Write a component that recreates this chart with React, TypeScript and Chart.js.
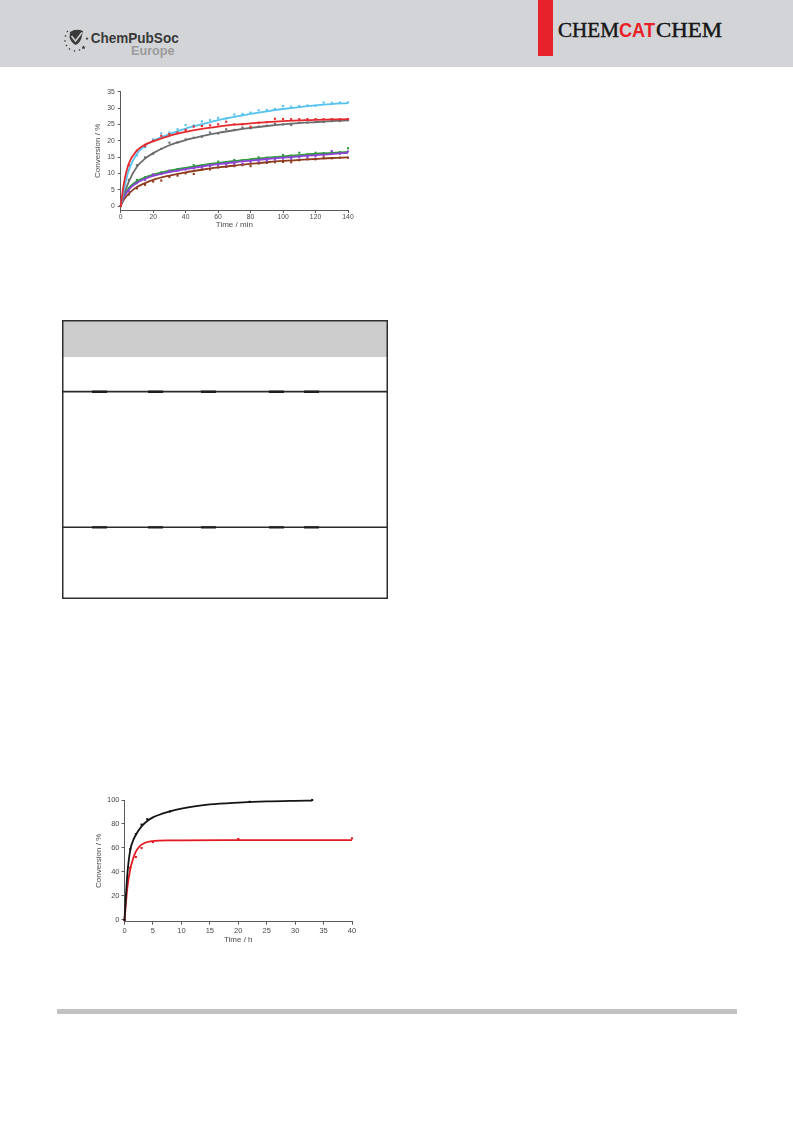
import React, { useEffect, useRef } from 'react';
import { Chart, registerables } from 'chart.js';

Chart.register(...registerables);

// ---------- Conversion vs. time, 0–140 min ----------
const SAMPLE_MIN = [0, 5, 10, 15, 20, 25, 30, 35, 40, 45, 50, 55, 60, 65, 70, 75, 80, 85, 90, 95, 100, 105, 110, 115, 120, 125, 130, 135, 140];

const CYAN_PTS = [0, 11, 15.5, 18, 20.4, 22.2, 22.5, 23.5, 24.8, 24.7, 25.9, 26.3, 27, 26.8, 28, 28.2, 28.6, 29.3, 29.4, 29.7, 30.6, 30.4, 30.6, 30.8, 30.7, 31.7, 31.6, 31.7, 31.7];
const RED_PTS = [0, 12.5, 17, 18.4, 20, 21.5, 22, 22.5, 23.3, 24.3, 24.5, 24.7, 25, 25.8, 25, 25, 24.3, 25.5, 25.7, 26.7, 26.6, 26.6, 26.6, 26.6, 26.6, 26.6, 26.6, 26.6, 26.6];
const GREY_PTS = [0, 8, 12.5, 14.9, 16, 17.5, 19.4, 19.5, 20.4, 20.9, 21.2, 22.5, 22.2, 23.5, 23.3, 24, 23.8, 24.3, 24.6, 25.2, 25, 24.8, 25.5, 25.5, 25.7, 25.7, 26, 26, 26.3];
const GREEN_PTS = [0, 5.5, 8, 8.8, 9.5, 10.3, 10.6, 11.3, 11.5, 12.5, 12.4, 12.8, 13.6, 13.5, 14.1, 14, 14.2, 14.9, 14.8, 15, 15.6, 15.4, 16.3, 15.8, 16.3, 16.2, 16.4, 16.5, 17.7];
const PURPLE_PTS = [0, 4.5, 7, 8, 9.7, 9.8, 10.8, 10.8, 11.2, 11.5, 11.8, 12.2, 12.5, 12.7, 13, 13, 13.5, 13.6, 13.8, 14.2, 14.5, 14.5, 14.9, 15, 15.2, 15.6, 16.8, 16, 16.7];
const BROWN_PTS = [0, 3.5, 5.4, 6.5, 7.5, 7.8, 8.9, 9.3, 10, 9.8, 11.2, 11.2, 11.8, 12, 12.2, 12.5, 12.2, 13, 13.2, 13.4, 13.5, 13.4, 14, 14.3, 14.3, 14.9, 14.6, 14.8, 14.8];

// fitted kinetic curves
const FIT_MIN = [0, 2, 5, 10, 15, 20, 30, 40, 50, 60, 70, 80, 90, 100, 110, 120, 130, 140];
const CYAN_FIT = [0, 5, 11, 16, 18.5, 20, 22, 23.7, 25, 26.3, 27.3, 28.2, 29, 29.7, 30.3, 30.8, 31.2, 31.5];
const RED_FIT = [0, 7, 13, 17, 18.8, 19.8, 21.5, 22.7, 23.6, 24.3, 24.9, 25.3, 25.7, 26, 26.2, 26.4, 26.5, 26.6];
const GREY_FIT = [0, 3.5, 7.5, 12, 14.5, 16.2, 18.6, 20.2, 21.4, 22.4, 23.2, 23.9, 24.5, 25, 25.4, 25.7, 26, 26.2];
const GREEN_FIT = [0, 3, 5.5, 7.6, 8.8, 9.6, 10.8, 11.7, 12.5, 13.2, 13.8, 14.3, 14.8, 15.2, 15.6, 16, 16.3, 16.6];
const PURPLE_FIT = [0, 2.7, 5, 7.1, 8.3, 9.2, 10.4, 11.3, 12.1, 12.8, 13.4, 13.9, 14.4, 14.8, 15.2, 15.6, 15.9, 16.3];
const BROWN_FIT = [0, 2, 3.8, 5.8, 7, 8, 9.3, 10.3, 11.1, 11.8, 12.4, 12.9, 13.4, 13.8, 14.1, 14.4, 14.7, 14.9];

const MIN_TICKS_X = [0, 20, 40, 60, 80, 100, 120, 140];
const MIN_TICKS_Y = [0, 5, 10, 15, 20, 25, 30, 35];

// ---------- Conversion vs. time, 0–40 h ----------
const BLACK_H = [0, 1, 2, 3, 4, 8, 22, 33];
const BLACK_PTS = [0, 59, 71.5, 79.5, 84, 90.5, 98.5, 100];
const RED_H = [0, 1, 2, 3, 5, 20, 40];
const RED_H_PTS = [0, 43.5, 52.5, 60, 65, 67.5, 68];

const BLACK_FIT_H = [0, 0.5, 1, 1.5, 2, 3, 4, 5, 6, 8, 10, 12, 15, 20, 25, 30, 33];
const BLACK_FIT = [0, 38, 58, 66, 71, 78, 82.5, 85.5, 87.5, 90.5, 92.8, 94.5, 96.3, 97.8, 98.8, 99.3, 99.5];
const RED_FIT_H = [0, 0.5, 1, 1.5, 2, 2.5, 3, 4, 5, 6, 8, 10, 20, 40];
const RED_H_FIT = [0, 27, 42, 51, 57, 60.5, 62.8, 65, 65.8, 66.1, 66.3, 66.4, 66.5, 66.6];

const H_TICKS_X = [0, 5, 10, 15, 20, 25, 30, 35, 40];
const H_TICKS_Y = [0, 20, 40, 60, 80, 100];

const SANS = "'Liberation Sans', Arial, Helvetica, sans-serif";
const SERIF = "'Liberation Serif', 'Times New Roman', serif";
const AXIS_COLOR = '#5a5a5a';
const LABEL_COLOR = '#4a4a4a';

type Series = {
  color: string;
  xs: number[];
  ys: number[];
  fitX: number[];
  fitY: number[];
};

type AxisSpec = {
  min: number;
  max: number;
  ticks: number[];
  size: number;
  title: string;
  titlePad: { top: number; bottom: number };
  tickPad: number;
  tickFont: number;
};

function buildAxis(a: AxisSpec, horizontal: boolean) {
  return {
    type: 'linear',
    position: horizontal ? 'bottom' : 'left',
    min: a.min,
    max: a.max,
    afterBuildTicks: (s: any) => {
      s.ticks = a.ticks.map((v) => ({ value: v }));
    },
    afterFit: (s: any) => {
      if (horizontal) s.height = a.size;
      else s.width = a.size;
    },
    grid: {
      drawOnChartArea: false,
      drawTicks: true,
      tickLength: 3,
      color: AXIS_COLOR,
      lineWidth: 1,
    },
    border: { display: true, color: AXIS_COLOR, width: 1 },
    ticks: {
      padding: a.tickPad,
      color: LABEL_COLOR,
      font: { family: SANS, size: a.tickFont },
      maxRotation: 0,
      autoSkip: false,
      callback: (v: any) => String(v),
    },
    title: {
      display: true,
      text: a.title,
      color: LABEL_COLOR,
      font: { family: SANS, size: 8 },
      padding: a.titlePad,
    },
  };
}

type PlotProps = {
  left: number;
  top: number;
  width: number;
  height: number;
  series: Series[];
  x: AxisSpec;
  y: AxisSpec;
  padding: { left: number; right: number; top: number; bottom: number };
  marker: number;
  lineWidth: number;
};

function ConversionPlot(p: PlotProps) {
  const ref = useRef<HTMLCanvasElement>(null);
  useEffect(() => {
    const datasets: any[] = [];
    p.series.forEach((s) => {
      datasets.push({
        data: s.fitX.map((x, i) => ({ x, y: s.fitY[i] })),
        showLine: true,
        pointRadius: 0,
        borderColor: s.color,
        borderWidth: p.lineWidth,
        cubicInterpolationMode: 'monotone',
        fill: false,
        clip: false,
      });
      datasets.push({
        data: s.xs.map((x, i) => ({ x, y: s.ys[i] })),
        showLine: false,
        pointStyle: 'rect',
        pointRadius: p.marker,
        backgroundColor: s.color,
        borderColor: s.color,
        borderWidth: 0,
        clip: false,
      });
    });
    const chart = new Chart(ref.current as HTMLCanvasElement, {
      type: 'scatter',
      data: { datasets },
      options: {
        responsive: false,
        animation: false,
        devicePixelRatio: 1,
        events: [],
        layout: { padding: p.padding },
        plugins: { legend: { display: false }, tooltip: { enabled: false } },
        scales: {
          x: buildAxis(p.x, true) as any,
          y: buildAxis(p.y, false) as any,
        },
      },
    });
    return () => chart.destroy();
  }, []);
  return (
    <canvas
      ref={ref}
      width={p.width}
      height={p.height}
      style={{ position: 'absolute', left: p.left, top: p.top, width: p.width, height: p.height }}
    />
  );
}

const minuteSeries: Series[] = [
  { color: '#e52a2e', xs: SAMPLE_MIN, ys: RED_PTS, fitX: FIT_MIN, fitY: RED_FIT },
  { color: '#56c2ef', xs: SAMPLE_MIN, ys: CYAN_PTS, fitX: FIT_MIN, fitY: CYAN_FIT },
  { color: '#6b6c6e', xs: SAMPLE_MIN, ys: GREY_PTS, fitX: FIT_MIN, fitY: GREY_FIT },
  { color: '#8c43d6', xs: SAMPLE_MIN, ys: PURPLE_PTS, fitX: FIT_MIN, fitY: PURPLE_FIT },
  { color: '#2f9b3c', xs: SAMPLE_MIN, ys: GREEN_PTS, fitX: FIT_MIN, fitY: GREEN_FIT },
  { color: '#8e3c1e', xs: SAMPLE_MIN, ys: BROWN_PTS, fitX: FIT_MIN, fitY: BROWN_FIT },
];

const hourSeries: Series[] = [
  { color: '#141414', xs: BLACK_H, ys: BLACK_PTS, fitX: BLACK_FIT_H, fitY: BLACK_FIT },
  { color: '#e3191f', xs: RED_H, ys: RED_H_PTS, fitX: RED_FIT_H, fitY: RED_H_FIT },
];

function star(cx: number, cy: number, r: number) {
  const pts: string[] = [];
  for (let i = 0; i < 10; i++) {
    const a = -Math.PI / 2 + (i * Math.PI) / 5;
    const rr = i % 2 === 0 ? r : r * 0.45;
    pts.push(`${(cx + rr * Math.cos(a)).toFixed(2)},${(cy + rr * Math.sin(a)).toFixed(2)}`);
  }
  return pts.join(' ');
}

// small stars circling the society emblem
const LOGO_STARS: [number, number, number][] = [
  [67.5, 31.5, 1.2], [65.5, 36, 1.2], [65, 41, 1.2], [66.5, 45.5, 1.2],
  [69.5, 49, 1.2], [74.5, 51, 1.2], [79.5, 50, 1.2], [83.5, 47.5, 2.3], [87, 38.5, 1.7],
];

function Header() {
  return (
    <svg width={793} height={70} style={{ position: 'absolute', left: 0, top: 0 }}>
      <rect x={0} y={0} width={793} height={67} fill="#d3d4d7" />
      {LOGO_STARS.map(([x, y, r], i) => (
        <polygon key={i} points={star(x, y, r)} fill="#3a3a3a" />
      ))}
      <path d="M70,32 Q76,28 83,31 L81.5,38 Q79.5,43.5 75.5,45 Q71,42.5 69.5,37.5 Z" fill="#3b3b3b" />
      <path d="M71.5,36 L75.5,41 L82,32.5" fill="none" stroke="#d3d4d7" strokeWidth={1.5} />
      <text x={90.7} y={42.7} fontFamily={SANS} fontWeight="bold" fontSize={15} fill="#3a3a3a" textLength={88} lengthAdjust="spacingAndGlyphs">
        ChemPubSoc
      </text>
      <text x={131} y={55.3} fontFamily={SANS} fontWeight="bold" fontSize={12.3} fill="#9b9b9b" textLength={43.5} lengthAdjust="spacingAndGlyphs">
        Europe
      </text>
      <rect x={538} y={0} width={15} height={56} fill="#e8222a" />
      <text x={558} y={37} fontFamily={SERIF} fontSize={21} fill="#161616" stroke="#161616" strokeWidth={0.45} textLength={61} lengthAdjust="spacingAndGlyphs">
        CHEM
      </text>
      <text x={619} y={37} fontFamily={SANS} fontWeight="bold" fontSize={19.5} fill="#e8222a" textLength={36} lengthAdjust="spacingAndGlyphs">
        CAT
      </text>
      <text x={656} y={37} fontFamily={SERIF} fontSize={21} fill="#161616" stroke="#161616" strokeWidth={0.45} textLength={66} lengthAdjust="spacingAndGlyphs">
        CHEM
      </text>
    </svg>
  );
}

const RULE_MARKS = [92, 148, 201, 269, 304];

function TableFrame() {
  return (
    <svg width={793} height={620} style={{ position: 'absolute', left: 0, top: 0 }}>
      <rect x={63} y={321} width={324} height={36} fill="#cccccc" />
      <rect x={62.75} y={320.75} width={324.5} height={277.5} fill="none" stroke="#2e2e2e" strokeWidth={1.5} />
      <line x1={62} y1={391.7} x2={388} y2={391.7} stroke="#2a2a2a" strokeWidth={1.8} />
      <line x1={62} y1={527.3} x2={388} y2={527.3} stroke="#2a2a2a" strokeWidth={1.5} />
      {RULE_MARKS.map((x) => (
        <g key={x}>
          <rect x={x} y={390.5} width={15} height={2.5} fill="#1e1e1e" />
          <rect x={x} y={526.2} width={15} height={2.3} fill="#1e1e1e" />
        </g>
      ))}
    </svg>
  );
}

export default function App() {
  return (
    <div
      style={{
        position: 'absolute',
        left: 0,
        top: 0,
        width: 793,
        height: 1121,
        overflow: 'hidden',
        background: '#ffffff',
      }}
    >
      <Header />
      <ConversionPlot
        left={80}
        top={80}
        width={280}
        height={150}
        series={minuteSeries}
        padding={{ left: 0, right: 12, top: 11.7, bottom: 0 }}
        marker={1.5}
        lineWidth={1.8}
        x={{ min: 0, max: 140, ticks: MIN_TICKS_X, size: 20, title: 'Time / min', titlePad: { top: 0, bottom: 0 }, tickPad: 0, tickFont: 6.8 }}
        y={{ min: -1.22, max: 35, ticks: MIN_TICKS_Y, size: 40.7, title: 'Conversion / %', titlePad: { top: 12.5, bottom: 0 }, tickPad: 3, tickFont: 6.8 }}
      />
      <TableFrame />
      <ConversionPlot
        left={85}
        top={785}
        width={280}
        height={160}
        series={hourSeries}
        padding={{ left: 0, right: 13, top: 15, bottom: 0 }}
        marker={1.5}
        lineWidth={1.8}
        x={{ min: 0, max: 40, ticks: H_TICKS_X, size: 23.3, title: 'Time / h', titlePad: { top: 0, bottom: 0 }, tickPad: 1.5, tickFont: 7.5 }}
        y={{ min: -1.42, max: 100, ticks: H_TICKS_Y, size: 39.5, title: 'Conversion / %', titlePad: { top: 8.5, bottom: 0 }, tickPad: 2, tickFont: 7.5 }}
      />
      <div
        style={{
          position: 'absolute',
          left: 57,
          top: 1009,
          width: 680,
          height: 4.5,
          background: '#c2c2c2',
        }}
      />
    </div>
  );
}
